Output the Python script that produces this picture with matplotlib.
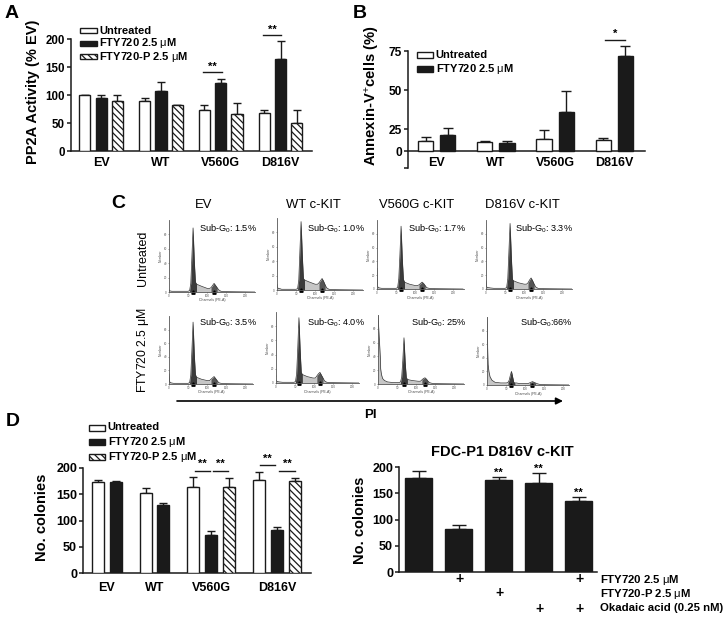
import numpy as np
import matplotlib
matplotlib.use('Agg')
from matplotlib import pyplot as plt
from matplotlib.patches import Rectangle, FancyArrowPatch

plt.rcParams['font.family'] = ['Liberation Sans', 'DejaVu Sans']
plt.rcParams['mathtext.fontset'] = 'custom'
plt.rcParams['mathtext.rm'] = 'Liberation Sans'
plt.rcParams['mathtext.it'] = 'Liberation Sans'
plt.rcParams['mathtext.bf'] = 'Liberation Sans:bold'
plt.rcParams['hatch.linewidth'] = 0.9

W, H = 728, 619
INK = '#1a1a1a'

# panel A
groups = ['EV', 'WT', 'V560G', 'D816V']
a_untreated = [100, 89.3, 72.8, 67.5]
a_untreated_top = [100, 94, 81.7, 74]
a_fty = [94.7, 107.7, 120.7, 164]
a_fty_top = [100, 124, 128.4, 197]
a_ftyp = [88.8, 81.7, 65.7, 49.7]
a_ftyp_top = [100, 81.7, 86.4, 74]

# panel B
b_untreated = [11.7, 10.6, 14, 12.9]
b_untreated_top = [15.9, 11, 23.9, 14.8]
b_fty = [18.2, 9.5, 35.7, 72]
b_fty_top = [25.8, 11.7, 49.4, 78]

# panel C, counts as percent of the axis height
channels = [0, 1, 2, 4, 7, 12, 20, 35, 50, 54, 57, 60, 63, 66, 69, 72, 76, 85, 100,
            106, 110, 114, 118, 122, 126, 130, 136, 150, 225]
ev_untreated = [3, 2, 1.5, 1.5, 1, 1, 1, 1, 1, 2, 12, 50, 89, 45, 14, 11, 10, 8, 5, 5, 6, 9, 12, 9, 6, 3, 1, .5, 0]
wt_untreated = [8, 4, 3, 2, 2, 1, 1, 1, 1, 2, 14, 55, 95, 50, 16, 14, 13, 11, 8, 8, 10, 13, 16, 12, 7, 3, 1, .5, 0]
v560_untreated = [30, 6, 3, 2, 1.5, 1, 1, 1, 1, 2, 15, 50, 91, 45, 14, 10, 9, 7, 5, 5, 6, 8, 10, 8, 5, 2, 1, .5, 0]
d816_untreated = [12, 4, 3, 2, 2, 1.5, 1, 1, 1, 2, 15, 55, 95, 50, 14, 12, 11, 9, 7, 7, 9, 13, 16, 12, 7, 3, 1, .5, 0]
ev_fty = [15, 6, 3, 2, 1.5, 1, 1, 1, 1, 2, 13, 50, 91, 45, 14, 10, 9, 7, 5, 5, 7, 9, 11, 8, 5, 2, 1, .5, 0]
wt_fty = [10, 6, 4, 3, 2, 1.5, 1, 1, 1, 2, 13, 50, 92, 48, 15, 12, 11, 9, 7, 7, 10, 13, 15, 11, 7, 3, 1, .5, 0]
v560_fty = [100, 40, 22, 14, 8, 5, 3, 2, 2, 3, 10, 35, 67, 32, 9, 7, 6, 5, 4, 4, 6, 8, 9, 7, 4, 2, 1, .5, 0]
d816_fty = [100, 48, 30, 20, 12, 7, 4, 3, 3, 4, 7, 14, 20, 12, 4, 3, 3, 2, 2, 2, 3, 4, 5, 4, 3, 2, 1, .5, 0]
c_columns = ['EV', 'WT c-KIT', 'V560G c-KIT', 'D816V c-KIT']
c_top_labels = ['1.5%', '1.0%', '1.7%', '3.3%']
c_bottom_labels = ['3.5%', '4.0%', '25%', '66%']

# panel D left
d_untreated = [174, 152, 164, 178]
d_untreated_top = [177, 161.8, 182, 193]
d_fty = [174, 129, 72, 82]
d_fty_top = [174.5, 133.8, 80, 88.5]
d_ftyp = [164, 174.5]
d_ftyp_top = [181.5, 181.5]

# panel D right
e_values = [179, 83, 174.4, 168.7, 135.5]
e_tops = [192, 89.5, 181, 187.8, 143]
e_stars = ['', '', '**', '**', '**']
e_fty = [0, 1, 0, 0, 1]
e_ftyp = [0, 0, 1, 0, 0]
e_okadaic = [0, 0, 0, 1, 1]

UM = r'$\mu$M'
fig = plt.figure(figsize=(W / 100, H / 100), dpi=100)
STYLES = {'white': dict(facecolor='white', edgecolor=INK),
          'black': dict(facecolor=INK, edgecolor=INK),
          'hatch': dict(facecolor='white', edgecolor=INK, hatch='\\\\\\\\\\')}


def px_axes(left, top, right, bottom):
    ax = fig.add_axes([left / W, 1 - bottom / H, (right - left) / W, (bottom - top) / H])
    ax.patch.set_alpha(0)
    return ax


def px_text(x, y, s, **kw):
    kw.setdefault('ha', 'center')
    kw.setdefault('va', 'center')
    return fig.text(x / W, 1 - y / H, s, **kw)


def bars(ax, x, vals, tops, kind, width=0.69, cap=2.6):
    x = np.array(x)
    vals = np.array(vals, dtype=float)
    ax.errorbar(x, vals, yerr=[np.zeros(len(vals)), np.array(tops) - vals], fmt='none',
                ecolor=INK, elinewidth=1, capsize=cap, capthick=1, zorder=2)
    return ax.bar(x, vals, width, linewidth=1, zorder=3, **STYLES[kind])


def clean(ax, size=8.3):
    for s in ['top', 'right']:
        ax.spines[s].set_visible(False)
    for s in ['left', 'bottom']:
        ax.spines[s].set_linewidth(1.1)
        ax.spines[s].set_color(INK)
    ax.tick_params(axis='y', length=3, width=1.1, labelsize=size, pad=1.5, color=INK)
    ax.tick_params(axis='x', length=0, labelsize=9, pad=4)
    for t in ax.get_yticklabels() + ax.get_xticklabels():
        t.set_fontweight('bold')


def sig(ax, x0, x1, y, stars, offset):
    ax.plot([x0, x1], [y, y], color=INK, lw=1, clip_on=False)
    ax.text((x0 + x1) / 2, y + offset, stars, ha='center', va='center', fontsize=8,
            fontweight='bold', clip_on=False)


def legend(x0, x1, rows, height=5.5):
    for yc, kind, label in rows:
        fig.add_artist(Rectangle((x0 / W, 1 - (yc + height / 2) / H), (x1 - x0) / W, height / H,
                                 transform=fig.transFigure, linewidth=1, **STYLES[kind]))
        px_text(x1 + 2.5, yc, label, ha='left', fontsize=8, fontweight='bold')


# A
ax = px_axes(71, 39, 312, 151)
pos = np.arange(4) * 3.67
bars(ax, pos, a_untreated, a_untreated_top, 'white')
bars(ax, pos + 1, a_fty, a_fty_top, 'black')
bars(ax, pos + 2, a_ftyp, a_ftyp_top, 'hatch')
ax.set_xlim(-0.85, 13.94)
ax.set_ylim(0, 200)
ax.set_yticks([0, 50, 100, 150, 200])
ax.set_xticks(pos + 1)
ax.set_xticklabels(groups)
clean(ax)
sig(ax, pos[2] - 0.1, pos[2] + 1.05, 140.8, '**', 10)
sig(ax, pos[3] - 0.1, pos[3] + 1.05, 206.5, '**', 9)
legend(80, 97, [(30.5, 'white', 'Untreated'), (43.5, 'black', 'FTY720 2.5 ' + UM),
                (56.5, 'hatch', 'FTY720-P 2.5 ' + UM)])
px_text(33.5, 92, 'PP2A Activity (% EV)', rotation=90, fontsize=10.5, fontweight='bold')
px_text(12, 14, 'A', fontsize=14, fontweight='bold')


# B: the axis is drawn with a shorter segment below 25
def b_forward(y):
    return np.interp(y, [-100, 25, 75, 200], [-88, 22, 100, 295])


def b_inverse(y):
    return np.interp(y, [-88, 22, 100, 295], [-100, 25, 75, 200])


ax = px_axes(408, 30, 645, 168)
ax.set_yscale('function', functions=(b_forward, b_inverse))
pos = np.arange(4) * 2.67
bars(ax, pos, b_untreated, b_untreated_top, 'white', width=0.68, cap=3.6)
bars(ax, pos + 1, b_fty, b_fty_top, 'black', width=0.68, cap=3.6)
ax.set_xlim(-0.8, 9.9)
ax.set_ylim(-19.3, 88.5)
ax.set_yticks([-19.3, 0, 25, 50, 75])
ax.set_yticklabels(['', '0', '25', '50', '75'])
ax.minorticks_off()
ax.spines['bottom'].set_position(('data', 0))
ax.spines['left'].set_bounds(-19.3, 75)
ax.set_xticks(pos + 0.5)
ax.set_xticklabels(groups)
clean(ax, 8.6)
ax.tick_params(axis='x', pad=4.5)
sig(ax, pos[3] + 0.1, pos[3] + 1.0, 82, '*', 3.8)
legend(417, 433, [(55, 'white', 'Untreated'), (69, 'black', 'FTY720 2.5 ' + UM)], height=6.5)
px_text(373, 96, r'Annexin-V$^{+}$cells (%)', rotation=90, fontsize=10.6, fontweight='bold')
px_text(360, 14, 'B', fontsize=14, fontweight='bold')

# C
c_panels = [
    (ev_untreated, (169, 220, 255, 292), 0), (wt_untreated, (277, 218, 363, 290), 0),
    (v560_untreated, (377, 220, 464, 289), 0), (d816_untreated, (486, 220, 572, 289), 0),
    (ev_fty, (169, 316, 253, 384), 0), (wt_fty, (276, 312, 359, 383), -3),
    (v560_fty, (378, 315, 464, 384), 5), (d816_fty, (487, 317, 569, 385), 1),
]
for counts, box, shift in c_panels:
    ax = px_axes(*box)
    x = np.array(channels, dtype=float) + shift
    x[0] = 0
    y = np.array(counts, dtype=float)
    ax.fill_between(x, y, color='#c6c6c6', lw=0)
    ax.fill_between(x, y, where=(x >= 54 + shift) & (x <= 72 + shift), color='#3c3c3c', lw=0)
    ax.fill_between(x, y, where=(x >= 110 + shift) & (x <= 126 + shift), color='#555555', lw=0)
    ax.plot(x, y, color='#333333', lw=0.5)
    ax.plot([63 + shift, 118 + shift], [0, 0], '^', color='black', ms=2.4, clip_on=False)
    ax.set_xlim(0, (box[2] - box[0]) / 0.382)
    ax.set_ylim(0, 100)
    ax.set_xticks([0, 50, 100, 150, 200][:1 + int((box[2] - box[0]) / 19)])
    ax.set_yticks([0, 20, 40, 60, 80])
    ax.tick_params(length=1, width=0.4, labelsize=2.2, pad=0.5, color='#555555', labelcolor='#555555')
    ax.set_xlabel('Channels (PE-A)', fontsize=2.5, labelpad=0.3, color='#444444')
    ax.set_ylabel('Number', fontsize=2.5, labelpad=0.3, color='#444444')
    for s in ['top', 'right']:
        ax.spines[s].set_visible(False)
    for s in ['left', 'bottom']:
        ax.spines[s].set_linewidth(0.6)
        ax.spines[s].set_color('#555555')

for xc, s in zip([204, 313, 417, 522], c_columns):
    px_text(xc, 205, s, fontsize=9.4)
for xl, s in zip([199, 307, 408, 515], c_top_labels):
    px_text(xl, 229, r'Sub-G$_0$: ' + s, fontsize=6.6, ha='left')
for xl, s in zip([199, 307, 411, 520], c_bottom_labels):
    sep = ':' if s == '66%' else ': '
    px_text(xl, 323, r'Sub-G$_0$' + sep + s, fontsize=6.6, ha='left')
px_text(143, 258, 'Untreated', rotation=90, fontsize=9)
px_text(143, 350, 'FTY720 2.5 ' + UM, rotation=90, fontsize=8.8)
px_text(118, 204, 'C', fontsize=14, fontweight='bold')
fig.add_artist(FancyArrowPatch((177 / W, 1 - 401 / H), (563 / W, 1 - 401 / H), transform=fig.transFigure,
                               arrowstyle='-|>', mutation_scale=10, lw=1.2, color='black',
                               shrinkA=0, shrinkB=0))
px_text(370, 415, 'PI', fontsize=9.5, fontweight='bold')

# D left
ax = px_axes(83.3, 468, 311, 573.3)
pos = np.array([0, 2.67, 5.34, 9.01])
bars(ax, pos, d_untreated, d_untreated_top, 'white', width=0.67, cap=3)
bars(ax, pos + 1, d_fty, d_fty_top, 'black', width=0.67, cap=3)
bars(ax, pos[2:] + 2, d_ftyp, d_ftyp_top, 'hatch', width=0.67, cap=3)
ax.set_xlim(-0.8, 11.9)
ax.set_ylim(0, 200)
ax.set_yticks([0, 50, 100, 150, 200])
ax.set_xticks([0.5, 3.17, 6.34, 10.01])
ax.set_xticklabels(groups)
clean(ax, 9)
ax.tick_params(axis='x', pad=6.5)
sig(ax, pos[2] + 0.1, pos[2] + 0.9, 194, '**', 13)
sig(ax, pos[2] + 1.1, pos[2] + 1.95, 194, '**', 13)
sig(ax, pos[3] + 0.05, pos[3] + 0.9, 205, '**', 13)
sig(ax, pos[3] + 1.1, pos[3] + 2.0, 194, '**', 13)
legend(89, 105, [(427.5, 'white', 'Untreated'), (442, 'black', 'FTY720 2.5 ' + UM),
                 (456.5, 'hatch', 'FTY720-P 2.5 ' + UM)], height=6)
px_text(42, 517, 'No. colonies', rotation=90, fontsize=10.5, fontweight='bold')
px_text(13, 421, 'D', fontsize=14, fontweight='bold')

# D right
ax = px_axes(399.3, 467, 597, 572.3)
pos = np.arange(5)
bars(ax, pos, e_values, e_tops, 'black', width=0.68, cap=5)
ax.set_xlim(-0.485, 4.46)
ax.set_ylim(0, 200)
ax.set_yticks([0, 50, 100, 150, 200])
ax.set_xticks([])
clean(ax, 9)
for x, top, s in zip(pos, e_tops, e_stars):
    ax.text(x, top + 8, s, ha='center', va='center', fontsize=8, fontweight='bold', clip_on=False)
rows = [(e_fty, 'FTY720 2.5 ' + UM, 579, 580), (e_ftyp, 'FTY720-P 2.5 ' + UM, 593.5, 594),
        (e_okadaic, 'Okadaic acid (0.25 nM)', 609, 608)]
for marks, label, plus_y, label_y in rows:
    for x, on in zip(pos, marks):
        if on:
            px_text(419.7 + x * 40, plus_y, '+', fontsize=10, fontweight='bold')
    px_text(600, label_y, label, fontsize=8.2, fontweight='bold', ha='left')
px_text(502, 452, 'FDC-P1 D816V c-KIT', fontsize=10.5, fontweight='bold')
px_text(360, 520, 'No. colonies', rotation=90, fontsize=10.5, fontweight='bold')

fig.savefig('out.png', dpi=100)
